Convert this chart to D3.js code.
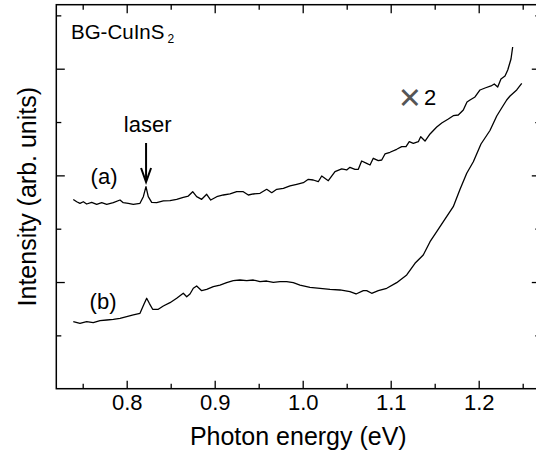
<!DOCTYPE html>
<html>
<head>
<meta charset="utf-8">
<script src="https://cdn.jsdelivr.net/npm/d3@7"></script>
<style>
  body { margin: 0; background: #fff; }
  svg { display: block; font-family: "Liberation Sans", Arial, sans-serif; }
</style>
</head>
<body>
<div id="chart"></div>
<script>
// photon energy (eV) and intensity (arb. units)
const energyA = [0.7393, 0.7432, 0.7469, 0.7507, 0.7545, 0.7602, 0.7659, 0.7716, 0.7773, 0.7848,
  0.7924, 0.7961, 0.8018, 0.8075, 0.8151, 0.8189, 0.8219, 0.8245, 0.8284, 0.8341,
  0.8416, 0.8492, 0.8568, 0.8643, 0.8700, 0.8750, 0.8795, 0.8852, 0.8909, 0.8955,
  0.9023, 0.9098, 0.9174, 0.9250, 0.9325, 0.9382, 0.9439, 0.9515, 0.9591, 0.9648,
  0.9705, 0.9780, 0.9856, 0.9932, 1.0007, 1.0064, 1.0120, 1.0177, 1.0216, 1.0291,
  1.0367, 1.0443, 1.0500, 1.0537, 1.0594, 1.0632, 1.0670, 1.0727, 1.0765, 1.0802,
  1.0859, 1.0898, 1.0935, 1.0992, 1.1068, 1.1125, 1.1174, 1.1211, 1.1257, 1.1314,
  1.1341, 1.1390, 1.1447, 1.1523, 1.1580, 1.1655, 1.1711, 1.1768, 1.1825, 1.1867,
  1.1901, 1.1958, 1.2015, 1.2072, 1.2140, 1.2177, 1.2216, 1.2253, 1.2299, 1.2330,
  1.2367, 1.2386];
const intensityA = [3.549, 3.506, 3.476, 3.506, 3.463, 3.495, 3.458, 3.488, 3.458, 3.488,
  3.538, 3.488, 3.476, 3.458, 3.476, 3.600, 3.788, 3.600, 3.495, 3.488,
  3.520, 3.525, 3.551, 3.589, 3.613, 3.694, 3.600, 3.551, 3.645, 3.538,
  3.600, 3.632, 3.651, 3.694, 3.694, 3.632, 3.651, 3.664, 3.739, 3.675,
  3.739, 3.758, 3.801, 3.833, 3.863, 3.926, 3.913, 3.881, 3.988, 3.900,
  4.069, 4.120, 4.101, 4.151, 4.114, 4.114, 4.269, 4.226, 4.194, 4.320,
  4.275, 4.288, 4.401, 4.433, 4.489, 4.538, 4.538, 4.631, 4.601, 4.631,
  4.725, 4.644, 4.776, 4.907, 4.982, 5.057, 5.119, 5.132, 5.226, 5.376,
  5.413, 5.470, 5.601, 5.638, 5.676, 5.713, 5.657, 5.807, 5.863, 5.976,
  6.182, 6.407];

const energyB = [0.7393, 0.7469, 0.7545, 0.7620, 0.7697, 0.7773, 0.7848, 0.7924, 0.8000, 0.8075,
  0.8151, 0.8197, 0.8227, 0.8257, 0.8295, 0.8359, 0.8416, 0.8492, 0.8568, 0.8643,
  0.8682, 0.8719, 0.8757, 0.8795, 0.8852, 0.8909, 0.8984, 0.9060, 0.9136, 0.9211,
  0.9287, 0.9364, 0.9439, 0.9515, 0.9591, 0.9666, 0.9742, 0.9818, 0.9893, 0.9969,
  1.0083, 1.0197, 1.0310, 1.0424, 1.0537, 1.0606, 1.0689, 1.0727, 1.0784, 1.0859,
  1.0955, 1.1068, 1.1182, 1.1276, 1.1370, 1.1447, 1.1523, 1.1598, 1.1711, 1.1788,
  1.1864, 1.1939, 1.2026, 1.2128, 1.2205, 1.2261, 1.2318, 1.2356, 1.2432, 1.2489];
const intensityB = [1.256, 1.226, 1.256, 1.238, 1.275, 1.288, 1.301, 1.320, 1.350, 1.382,
  1.414, 1.588, 1.695, 1.601, 1.489, 1.489, 1.551, 1.613, 1.695, 1.789,
  1.725, 1.776, 1.883, 1.926, 1.838, 1.864, 1.913, 1.944, 1.988, 2.025,
  2.038, 2.025, 2.038, 2.006, 2.019, 1.995, 2.006, 2.006, 1.988, 1.944,
  1.901, 1.883, 1.864, 1.851, 1.819, 1.776, 1.838, 1.838, 1.789, 1.838,
  1.883, 1.988, 2.132, 2.351, 2.507, 2.756, 2.944, 3.131, 3.413, 3.739,
  4.039, 4.256, 4.588, 4.841, 5.113, 5.263, 5.413, 5.488, 5.601, 5.726];

const xMajor = [0.8, 0.9, 1.0, 1.1, 1.2];
const xMinor = [0.75, 0.85, 0.95, 1.05, 1.15, 1.25];
const yMajor = [2, 4, 6];
const yMinor = [1, 3, 5, 7];
const laserEnergy = 0.822;

const W = 536, H = 454;
const svg = d3.select('#chart').append('svg').attr('width', W).attr('height', H);

const x = d3.scaleLinear().domain([0.72, 1.27]).range([56.3, 540.3]);
const y = d3.scaleLinear().domain([0, 7.2]).range([388.7, 4.7]);

const plotL = x.range()[0], plotR = x.range()[1];
const plotT = y.range()[1], plotB = y.range()[0];

// frame
svg.append('rect')
  .attr('x', plotL).attr('y', plotT)
  .attr('width', plotR - plotL).attr('height', plotB - plotT)
  .attr('fill', 'none').attr('stroke', '#000').attr('stroke-width', 1.5);

function tickAxis(axis, tr, labels) {
  const g = svg.append('g').attr('transform', tr).call(axis);
  g.select('.domain').remove();
  g.selectAll('line').attr('stroke', '#000').attr('stroke-width', 1.3);
  if (!labels) g.selectAll('text').remove();
  return g;
}

// bottom axis with labels
const bx = tickAxis(d3.axisBottom(x).tickValues(xMajor).tickSize(-8).tickSizeOuter(0)
  .tickPadding(6).tickFormat(d3.format('.1f')), `translate(0,${plotB})`, true);
bx.selectAll('text').attr('font-size', 22).attr('fill', '#000')
  .attr('font-family', '"Liberation Sans", Arial, sans-serif');
tickAxis(d3.axisBottom(x).tickValues(xMinor).tickSize(-5).tickSizeOuter(0), `translate(0,${plotB})`);
// top axis
tickAxis(d3.axisTop(x).tickValues(xMajor).tickSize(-8.5).tickSizeOuter(0), `translate(0,${plotT})`);
tickAxis(d3.axisTop(x).tickValues(xMinor).tickSize(-5).tickSizeOuter(0), `translate(0,${plotT})`);
// left and right
tickAxis(d3.axisLeft(y).tickValues(yMajor).tickSize(-8.5).tickSizeOuter(0), `translate(${plotL},0)`);
tickAxis(d3.axisLeft(y).tickValues(yMinor).tickSize(-5).tickSizeOuter(0), `translate(${plotL},0)`);
tickAxis(d3.axisRight(y).tickValues(yMajor).tickSize(-8.5).tickSizeOuter(0), `translate(${plotR},0)`);
tickAxis(d3.axisRight(y).tickValues(yMinor).tickSize(-5).tickSizeOuter(0), `translate(${plotR},0)`);

// spectra
const line = d3.line().x(d => x(d[0])).y(d => y(d[1]));
const seriesA = energyA.map((e, i) => [e, intensityA[i]]);
const seriesB = energyB.map((e, i) => [e, intensityB[i]]);
[seriesA, seriesB].forEach(s => {
  svg.append('path').datum(s).attr('d', line)
    .attr('fill', 'none').attr('stroke', '#000').attr('stroke-width', 1.3)
    .attr('stroke-linejoin', 'round');
});

// axis titles
svg.append('text')
  .attr('x', (plotL + plotR) / 2).attr('y', 445)
  .attr('text-anchor', 'middle').attr('font-size', 25)
  .text('Photon energy (eV)');

svg.append('text')
  .attr('transform', `translate(36,${(plotT + plotB) / 2}) rotate(-90)`)
  .attr('text-anchor', 'middle').attr('font-size', 25)
  .text('Intensity (arb. units)');

// annotations
const label = svg.append('text').attr('x', 71).attr('y', 39.3).attr('font-size', 20.5);
label.append('tspan').text('BG-CuInS');
label.append('tspan').attr('dx', 3).attr('dy', 4).attr('font-size', 12).text('2');

svg.append('text').attr('x', 123.8).attr('y', 131.7).attr('font-size', 22).text('laser');

const ax = x(laserEnergy);
svg.append('line').attr('x1', ax).attr('x2', ax).attr('y1', 143).attr('y2', 181)
  .attr('stroke', '#000').attr('stroke-width', 2);
svg.append('path')
  .attr('d', `M${ax - 5},${168} L${ax},${182} L${ax + 5},${168}`)
  .attr('fill', 'none').attr('stroke', '#000').attr('stroke-width', 2);

svg.append('text').attr('x', 90.6).attr('y', 183.5).attr('font-size', 22).text('(a)');
svg.append('text').attr('x', 89.6).attr('y', 309).attr('font-size', 22).text('(b)');

const times = svg.append('text').attr('x', 399).attr('y', 105).attr('font-size', 22);
times.append('tspan').attr('font-family', '"Noto Sans"').attr('font-size', 38)
  .attr('dy', 6).attr('fill', '#555').text('×');
times.append('tspan').attr('x', 424).attr('dy', -6).text('2');
</script>
</body>
</html>
